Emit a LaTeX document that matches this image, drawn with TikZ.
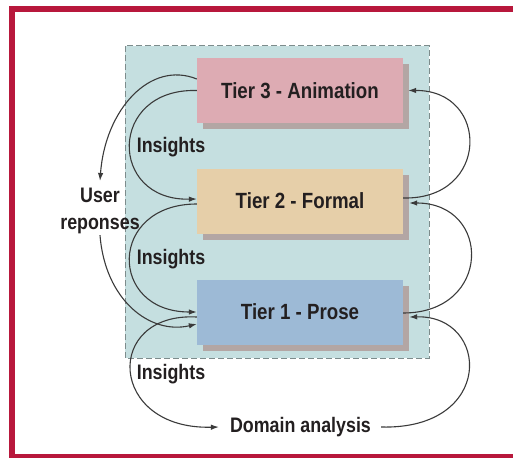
\documentclass[tikz,border=0pt]{standalone}
\usepackage{fontspec}
\setmainfont[FakeStretch=0.85]{Liberation Sans}
\usetikzlibrary{arrows.meta,shadows}
\definecolor{framered}{HTML}{B8183C}
\definecolor{panelfill}{HTML}{C5DFE0}
\definecolor{paneldash}{HTML}{7D8C8C}
\definecolor{tierthree}{HTML}{DDABB3}
\definecolor{tiertwo}{HTML}{E6CFA9}
\definecolor{tierone}{HTML}{9DBAD6}
\definecolor{shadowgrey}{HTML}{B3A6A4}
\definecolor{ink}{HTML}{231F20}
\definecolor{wire}{HTML}{3A3A3A}
\begin{document}
\begin{tikzpicture}[x=1pt,y=-1pt,
  labeltext/.style={text=ink, inner sep=3pt, font=\fontsize{21}{27}\selectfont\bfseries},
  tierbox/.style={labeltext, minimum width=206pt, minimum height=65pt, inner sep=0pt,
    font=\fontsize{22}{27}\selectfont\bfseries,
    drop shadow={shadow xshift=6pt, shadow yshift=-6pt, fill=shadowgrey, opacity=1}},
  conn/.style={draw=wire, line width=1.1pt, -{Latex[length=8pt,width=5.5pt]}},
  plainconn/.style={draw=wire, line width=1.1pt}]
\useasboundingbox (0,0) rectangle (513,457);
\clip (0,0) rectangle (513,457);

% red outer frame, open to the right and bottom edges
\draw[framered, line width=6pt] (12,9) rectangle (540,457);

% dashed panel holding the three tiers
\draw[fill=panelfill, draw=paneldash, line width=1pt, dash pattern=on 6pt off 3pt]
  (125,46) rectangle (429,358);

% tiers
\node[tierbox, fill=tierthree] (t3) at (300,90.5) {Tier 3 - Animation};
\node[tierbox, fill=tiertwo]   (t2) at (300,201)  {Tier 2 - Formal};
\node[tierbox, fill=tierone]   (t1) at (300,312)  {Tier 1 - Prose};

% labels
\node[labeltext, align=center] (ur) at (100,211) {User\\reponses};
\node[labeltext] (i3) at (171,147) {Insights};
\node[labeltext] (i2) at (171,259) {Insights};
\node[labeltext] (i1) at (171,374) {Insights};
\node[labeltext] (da) at (300.5,427) {Domain analysis};

% left-hand feedback loops
\draw[conn] ([yshift=11.5pt]t3.west) .. controls (150,60) and (105,110) .. ([yshift=4pt]ur.north);
\draw[conn] (t3.west) .. controls (108,88) and (108,201) .. ([yshift=2pt]t2.west);
\draw[conn] ([yshift=-3pt]t2.west) .. controls (108,204) and (108,312) .. (t1.west);
\draw[conn] ([yshift=2pt]ur.south) .. controls (105,300) and (150,335) .. ([yshift=-12pt]t1.west);
\draw[conn] ([yshift=-5pt]t1.west) .. controls (103,312) and (108,430) .. ([xshift=-8pt]da.west);

% right-hand loops feeding upwards
\draw[conn] ([yshift=3pt]t2.east) .. controls (490,200) and (490,90) .. ([xshift=5pt]t3.east);
\draw[conn] ([yshift=-1pt]t1.east) .. controls (492,313) and (492,203) .. ([xshift=6pt,yshift=-2pt]t2.east);
\draw[conn] ([xshift=7pt]da.east) .. controls (495,430) and (490,315) .. ([xshift=6pt,yshift=-5pt]t1.east);
\end{tikzpicture}
\end{document}
